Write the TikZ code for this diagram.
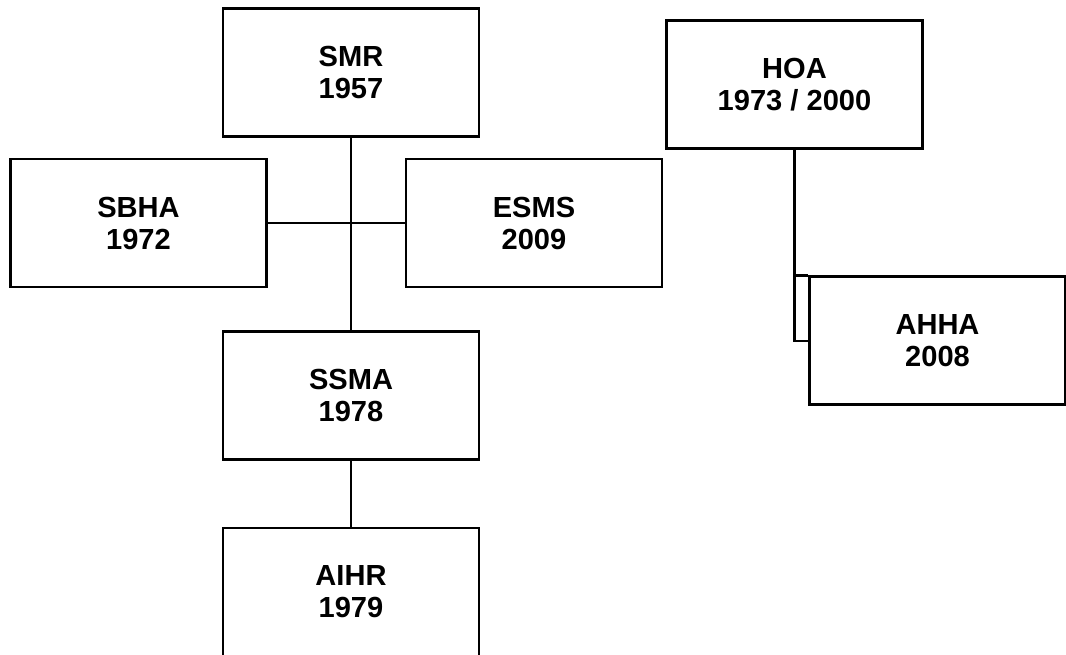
\documentclass[tikz,border=0pt]{standalone}
\usepackage{fontspec}
\setmainfont{Liberation Sans}
\begin{document}
\begin{tikzpicture}[x=0.75pt,y=-0.75pt,line width=1.6pt,
  box/.style={draw, minimum width=192pt, minimum height=96pt, inner sep=0pt,
    align=center, font=\bfseries\fontsize{21.8}{24}\selectfont}]
  \useasboundingbox[fill=white] (0,0) rectangle (1066,654);
  \node[box] (smr) at (351,72.5) {SMR\\1957};
  \node[box] (sbha) at (138.5,223) {SBHA\\1972};
  \node[box] (esms) at (534,223) {ESMS\\2009};
  \node[box] (ssma) at (351,395.5) {SSMA\\1978};
  \node[box] (aihr) at (351,592) {AIHR\\1979};
  \node[box] (hoa) at (794.5,84.5) {HOA\\1973 / 2000};
  \node[box] (ahha) at (937.5,340.5) {AHHA\\2008};
  \draw (smr) -- (ssma);
  \draw (sbha) -- (esms);
  \draw (ssma) -- (aihr);
  % HOA branch
  \coordinate (hk) at (795,341);
  \draw (hoa.south) |- (ahha.west |- hk);
  \draw (hoa.south |- ahha.north) -- (ahha.north west);
\end{tikzpicture}
\end{document}
